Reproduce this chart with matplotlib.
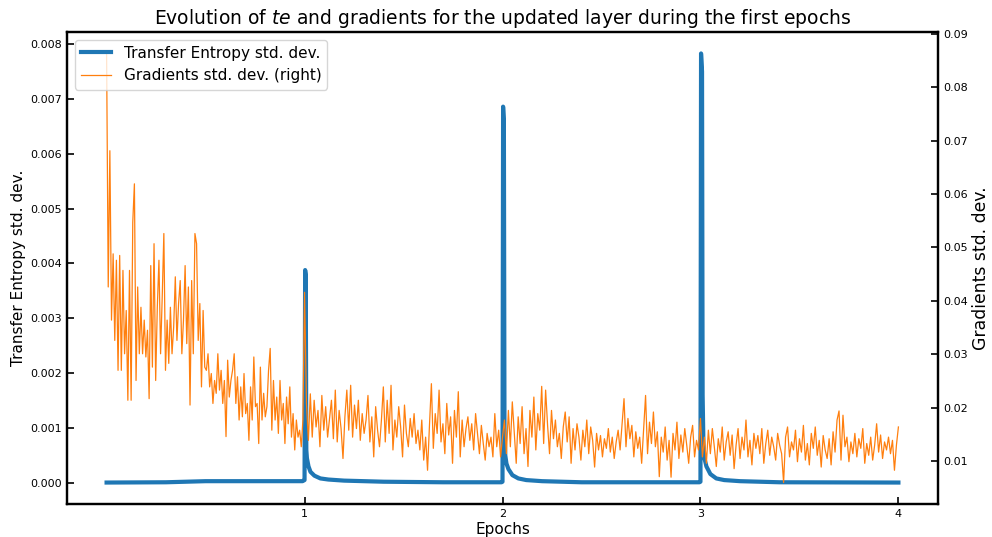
import numpy as np
import matplotlib.pyplot as plt

# transfer entropy std. dev. (left axis), epochs / value
te_epochs = [0.0, 0.3, 0.5, 0.7, 0.99, 1.0, 1.003, 1.006, 1.009, 1.012, 1.02, 1.03, 1.05, 1.08, 1.12, 1.2, 1.4, 1.7,
             1.995, 2.0, 2.003, 2.007, 2.01, 2.014, 2.02, 2.03, 2.05, 2.08, 2.12, 2.2, 2.4,
             2.995, 3.0, 3.003, 3.008, 3.011, 3.015, 3.02, 3.03, 3.05, 3.08, 3.12, 3.2, 3.4, 4.0]
te_std = [0.005, 0.01, 0.03, 0.03, 0.03, 0.05, 3.88, 3.80, 0.60, 0.45, 0.30, 0.20, 0.13, 0.08, 0.06, 0.04, 0.02, 0.01,
          0.01, 0.02, 6.86, 6.60, 1.00, 0.50, 0.35, 0.25, 0.14, 0.08, 0.05, 0.03, 0.01,
          0.01, 0.02, 7.83, 7.50, 1.60, 0.70, 0.45, 0.30, 0.16, 0.08, 0.05, 0.03, 0.01, 0.005]

# gradients std. dev. (right axis), one list per epoch, values in 1e-3
grad_ep0 = [86.3, 42.6, 68.1, 36.4, 48.8, 32.6, 47.6, 27.0, 48.5, 27.0, 45.7, 30.1, 38.2, 21.4, 45.7, 21.4,
            54.7, 61.9, 25.1, 42.6, 30.1, 38.8, 30.1, 36.4, 29.5, 34.5, 21.7, 46.6, 27.6, 50.7, 25.1, 38.8,
            47.6, 30.1, 40.7, 52.6, 27.0, 36.4, 28.3, 38.8, 30.1, 35.1, 44.5, 32.6, 39.5, 43.8, 30.1, 36.4,
            46.6, 32.0, 42.6, 20.5, 43.8, 30.1, 52.6, 50.7, 32.6, 39.5, 23.9, 38.2, 27.6, 27.0, 30.1, 23.9,
            26.4, 20.8, 25.1, 22.7, 30.1, 23.3, 27.0, 20.8, 25.1, 14.6, 28.9, 22.0, 25.1, 27.0, 30.1, 20.8,
            25.8, 17.7, 23.9, 18.3, 26.4, 18.9, 20.8, 13.9, 23.9, 17.7, 29.5, 20.2, 20.8, 13.3, 27.6, 17.7,
            22.7, 18.3, 20.2, 27.0, 31.1, 15.8, 25.1, 17.7, 22.0, 15.2, 25.1, 17.7, 20.8, 13.3, 22.0, 17.0,
            23.9, 14.5, 18.9, 12.1, 17.7, 14.5, 15.8, 12.7, 17.7]
grad_ep1 = [41.6, 20.8, 13.9, 22.6, 14.5, 21.4, 16.4, 19.5, 12.7, 22.3, 15.8, 20.2, 14.5, 18.0, 21.4, 14.2,
            23.3, 13.6, 19.5, 16.1, 10.5, 18.3, 23.3, 15.8, 24.2, 14.5, 20.5, 16.1, 21.4, 13.9, 18.9, 15.2,
            17.7, 22.3, 13.6, 18.3, 10.8, 20.2, 15.8, 12.7, 17.7, 23.9, 13.6, 21.4, 15.2, 24.2, 12.1, 17.7,
            14.5, 20.2, 16.4, 10.8, 20.5, 15.2, 12.7, 18.0, 14.5, 18.9, 13.3, 15.8, 12.1, 17.7, 10.2, 14.5,
            8.3, 16.7, 24.5, 12.4, 18.9, 15.2, 23.3, 13.6, 17.0, 11.4, 20.8, 14.9, 18.3, 9.6, 19.5, 14.5,
            23.0, 10.8, 17.7, 12.7, 16.1, 18.3, 13.9, 17.0, 12.1, 18.9, 15.2, 11.4, 16.7, 13.3, 10.2, 15.2,
            12.7, 14.5, 10.8, 18.9, 12.7, 15.8, 10.8]
grad_ep2 = [14.5, 17.7, 11.4, 19.5, 12.7, 21.1, 15.2, 9.6, 18.3, 13.3, 20.2, 11.4, 16.1, 9.0, 19.5, 14.5,
            22.0, 12.1, 18.9, 15.8, 24.0, 13.3, 23.3, 16.7, 11.4, 19.5, 14.2, 17.7, 12.7, 15.2, 10.5, 16.4,
            19.2, 13.6, 18.3, 9.6, 16.1, 12.1, 17.0, 14.5, 10.2, 15.8, 12.7, 17.7, 11.4, 16.4, 13.9, 8.9,
            15.2, 12.1, 14.8, 10.8, 14.2, 12.4, 16.1, 11.7, 14.5, 10.5, 13.6, 15.8, 12.1, 17.0, 21.7, 12.7,
            18.0, 14.2, 16.7, 10.8, 15.5, 12.4, 14.5, 9.6, 16.1, 22.3, 11.4, 17.3, 13.3, 19.2, 12.7, 15.5,
            7.1, 14.5, 11.7, 16.4, 10.2, 13.9, 7.0, 15.2, 12.1, 17.3, 10.5, 14.9, 11.7, 16.1, 13.0, 9.6,
            14.5, 16.7, 10.8, 13.9, 12.1]
grad_ep3 = [18.0, 10.8, 14.5, 9.6, 15.8, 11.4, 16.1, 12.7, 9.0, 14.2, 11.7, 16.4, 10.2, 13.6, 15.5, 11.1,
            14.9, 8.6, 13.0, 16.1, 10.5, 14.5, 12.1, 17.7, 10.8, 13.9, 9.3, 15.2, 12.4, 14.8, 11.4, 16.1,
            9.6, 13.3, 15.8, 11.1, 14.5, 12.7, 10.2, 15.2, 13.0, 11.4, 6.0, 14.5, 16.4, 10.8, 13.6, 12.1,
            15.8, 9.9, 14.2, 11.7, 16.7, 10.2, 13.3, 9.3, 15.2, 12.4, 16.4, 11.1, 13.9, 8.9, 14.8, 12.1,
            10.5, 14.2, 9.3, 15.5, 11.7, 17.7, 19.4, 10.2, 18.6, 12.7, 14.5, 9.9, 13.6, 11.4, 15.2, 10.8,
            14.2, 12.4, 16.1, 9.6, 13.3, 11.1, 14.5, 10.2, 13.0, 17.0, 11.7, 14.9, 10.5, 13.6, 12.1, 14.5,
            11.4, 13.9, 8.3, 13.0, 16.4]

grad_lists = [grad_ep0, grad_ep1, grad_ep2, grad_ep3]
grad_x = []
grad_y = []
for k, vals in enumerate(grad_lists):
    last = k == len(grad_lists) - 1
    grad_x.append(np.linspace(k, k + 1, len(vals), endpoint=last))
    grad_y.append(np.array(vals) * 1e-3)
grad_x = np.concatenate(grad_x)
grad_y = np.concatenate(grad_y)

te_x = np.array(te_epochs)
te_y = np.array(te_std) * 1e-3

fig, ax = plt.subplots(figsize=(9.92, 5.37), dpi=100)
fig.subplots_adjust(left=67 / 992, right=938 / 992, top=1 - 32 / 537, bottom=1 - 504 / 537)

l1, = ax.plot(te_x, te_y, color='#1f77b4', lw=3, label='Transfer Entropy std. dev.')
ax2 = ax.twinx()
l2, = ax2.plot(grad_x, grad_y, color='#ff7f0e', lw=0.9, label='Gradients std. dev. (right)')

ax.set_xticks([1, 2, 3, 4])
ax.set_xlabel('Epochs', fontsize=11, labelpad=2)
ax.set_ylabel('Transfer Entropy std. dev.', fontsize=11, labelpad=3)
ax2.set_ylabel('Gradients std. dev.', fontsize=12.4, labelpad=3)
ax.set_title('Evolution of $te$ and gradients for the updated layer during the first epochs', fontsize=13.5)

for a in (ax, ax2):
    a.tick_params(direction='in', labelsize=8, length=5, width=1.2)
    for s in a.spines.values():
        s.set_linewidth(1.6)

ax2.legend(handles=[l1, l2], loc='upper left', fontsize=11)

fig.savefig('out.png', dpi=100)
